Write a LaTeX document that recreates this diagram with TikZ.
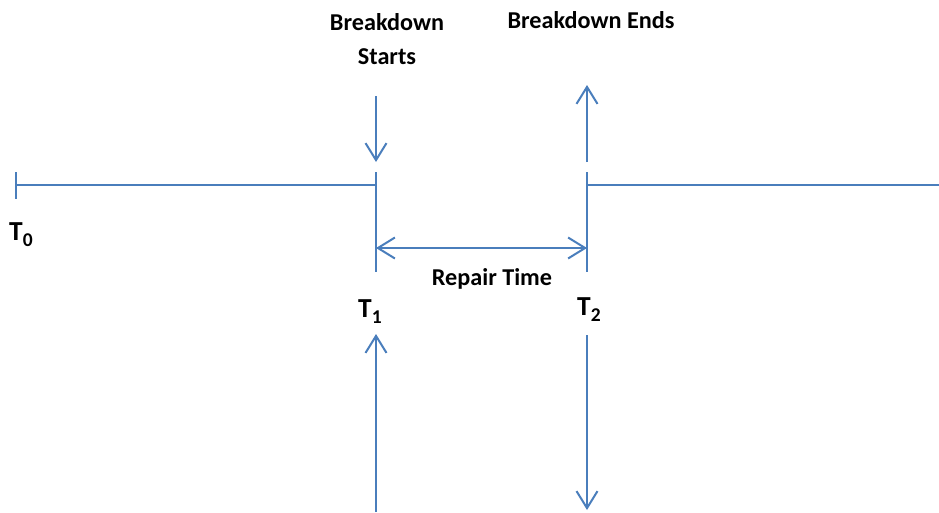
\documentclass[tikz,border=0pt]{standalone}
\usepackage{fontspec}
\setmainfont{Carlito}
\usetikzlibrary{arrows.meta}
\definecolor{lineblue}{RGB}{74,126,188}
\begin{document}
\begin{tikzpicture}[x=1pt,y=-1pt,
  ln/.style={draw=lineblue, line width=2pt},
  arr/.style={ln, -{Straight Barb[length=17pt,width=21pt]}},
  darr/.style={ln, {Straight Barb[length=17pt,width=21pt]}-{Straight Barb[length=17pt,width=21pt]}},
  lbl/.style={font=\fontsize{24.2}{29}\selectfont\bfseries, inner sep=0pt},
  tlbl/.style={font=\fontsize{27.5}{32}\selectfont\bfseries, inner sep=0pt}]
\useasboundingbox (0,0) rectangle (939,512);
% coordinates
\coordinate (t0top) at (16,172);
\coordinate (t0bot) at (16,199);
\coordinate (t0mid) at (16,185);
\coordinate (t1mid) at (376,185);
\coordinate (t1top) at (376,172);
\coordinate (t1bot) at (376,272);
\coordinate (t2mid) at (587,185);
\coordinate (t2top) at (587,172);
\coordinate (t2bot) at (587,272);
\coordinate (rend) at (939,185);
\coordinate (bsA) at (376,96);
\coordinate (bsB) at (376,162);
\coordinate (beA) at (587,162);
\coordinate (beB) at (587,85);
\coordinate (rpA) at (376,248);
\coordinate (rpB) at (587,248);
\coordinate (luA) at (376,512);
\coordinate (luB) at (376,334);
\coordinate (rdA) at (587,335);
\coordinate (rdB) at (587,510);
% lines
\draw[ln] (t0top) -- (t0bot);
\draw[ln] (t0mid) -- (t1mid);
\draw[ln] (t1top) -- (t1bot);
\draw[ln] (t2top) -- (t2bot);
\draw[ln] (t2mid) -- (rend);
% arrows
\draw[arr] (bsA) -- (bsB);
\draw[arr] (beA) -- (beB);
\draw[darr] (rpA) -- (rpB);
\draw[arr] (luA) -- (luB);
\draw[arr] (rdA) -- (rdB);
% labels
\node[lbl, anchor=base] (bs1) at (387,30) {Breakdown};
\node[lbl, anchor=base] (bs2) at (387,64) {Starts};
\node[lbl, anchor=base] (be) at (591,28) {Breakdown Ends};
\node[lbl, anchor=base] (rt) at (492,285) {Repair Time};
\node[tlbl, anchor=base west] (T0) at (9,240) {T\raisebox{-6pt}{\fontsize{19.5}{22}\selectfont 0}};
\node[tlbl, anchor=base west] (T1) at (358,317) {T\raisebox{-6pt}{\fontsize{19.5}{22}\selectfont 1}};
\node[tlbl, anchor=base west] (T2) at (577,315) {T\raisebox{-6pt}{\fontsize{19.5}{22}\selectfont 2}};
\end{tikzpicture}
\end{document}
